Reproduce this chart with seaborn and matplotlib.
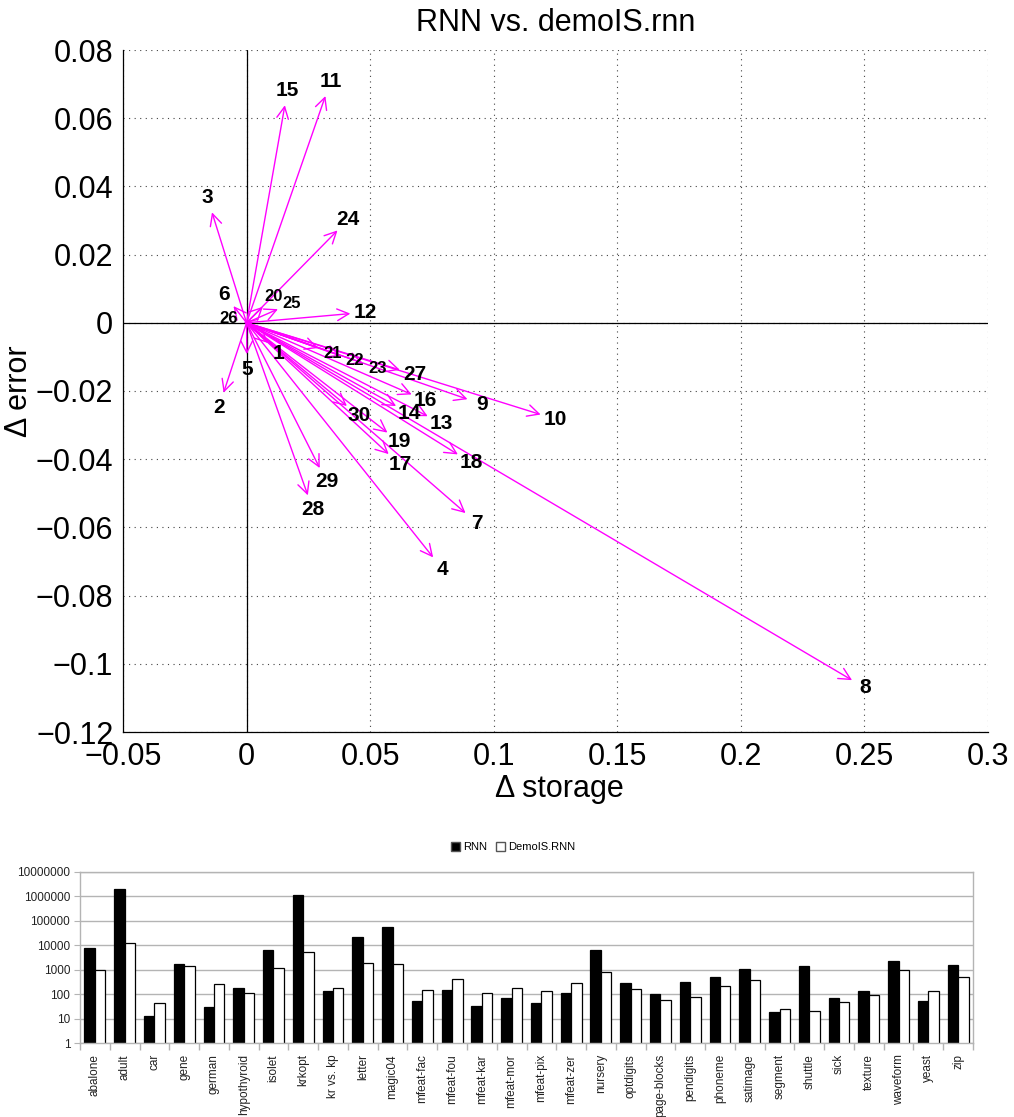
import numpy as np
import pandas as pd
import matplotlib
matplotlib.use("Agg")
import matplotlib.pyplot as plt
from matplotlib.ticker import FuncFormatter, FixedLocator, MultipleLocator
from matplotlib.patches import Patch
import seaborn as sns

# ---- arrow chart: change in storage / error per dataset (RNN -> demoIS.rnn) ----
ids = list(range(1, 31))
d_storage = [0.0086, -0.0093, -0.0140, 0.0755, 0.0001, -0.0053, 0.0886, 0.2450,
             0.0894, 0.1190, 0.0319, 0.0420, 0.0733, 0.0605, 0.0155, 0.0668,
             0.0575, 0.0855, 0.0570, 0.0066, 0.0290, 0.0380, 0.0470, 0.0368,
             0.0127, -0.0012, 0.0620, 0.0248, 0.0296, 0.0406]
d_error = [-0.0059, -0.0205, 0.0324, -0.0688, -0.0092, 0.0049, -0.0558, -0.1048,
           -0.0224, -0.0269, 0.0665, 0.0027, -0.0274, -0.0244, 0.0638, -0.0210,
           -0.0385, -0.0386, -0.0322, 0.0047, -0.0074, -0.0097, -0.0118, 0.0271,
           0.0040, 0.0002, -0.0138, -0.0506, -0.0426, -0.0244]

# ---- bar chart: storage per dataset ----
datasets = ["abalone", "adult", "car", "gene", "german", "hypothyroid", "isolet",
            "krkopt", "kr vs. kp", "letter", "magic04", "mfeat-fac", "mfeat-fou",
            "mfeat-kar", "mfeat-mor", "mfeat-pix", "mfeat-zer", "nursery",
            "optdigits", "page-blocks", "pendigits", "phoneme", "satimage",
            "segment", "shuttle", "sick", "texture", "waveform", "yeast", "zip"]
rnn_storage = [7500, 2000000, 13, 1700, 30, 178, 6200, 1140000, 138, 22500, 54000,
               51, 152, 34, 67, 42, 108, 6400, 295, 105, 303, 520, 1035, 18, 1420,
               70, 139, 2270, 52, 1500]
demois_storage = [950, 12000, 43, 1460, 260, 108, 1170, 5300, 185, 1940, 1700,
                  148, 417, 111, 172, 130, 285, 780, 167, 56, 74, 222, 380, 25, 20,
                  49, 95, 975, 130, 500]
methods = ["RNN", "DemoIS.RNN"]

sns.set_style("white")
plt.rcParams["font.family"] = ["Liberation Sans", "DejaVu Sans"]
plt.rcParams["axes.unicode_minus"] = True
plt.rcParams["text.color"] = "black"
plt.rcParams["axes.labelcolor"] = "black"
plt.rcParams["xtick.color"] = "black"
plt.rcParams["ytick.color"] = "black"

W, H = 1014, 1117
fig = plt.figure(figsize=(W / 100, H / 100), dpi=100)


def frac(l, t, r, b):
    return [l / W, 1 - b / H, (r - l) / W, (b - t) / H]


# ================= top chart =================
ax = fig.add_axes(frac(123, 50, 988, 732))
ax.set_xlim(-0.05, 0.3)
ax.set_ylim(-0.12, 0.08)
ax.xaxis.set_major_locator(MultipleLocator(0.05))
ax.yaxis.set_major_locator(MultipleLocator(0.02))
ax.xaxis.set_minor_locator(MultipleLocator(0.01))
ax.yaxis.set_minor_locator(MultipleLocator(0.004))
fmt = FuncFormatter(lambda v, p: ("%g" % round(v, 4)).replace("-", "\u2212"))
ax.xaxis.set_major_formatter(fmt)
ax.yaxis.set_major_formatter(fmt)
ax.tick_params(axis="both", which="major", labelsize=22, direction="in",
               length=5, width=0.8, pad=7, color="black", labelcolor="black")
ax.tick_params(axis="both", which="minor", direction="in", length=3, width=0.6)
ax.grid(True, which="major", color="#444444", linestyle=(0, (1, 4)), linewidth=0.8)
for s in ["top", "right"]:
    ax.spines[s].set_visible(False)
for s in ["left", "bottom"]:
    ax.spines[s].set_color("black")
    ax.spines[s].set_linewidth(0.9)
ax.axhline(0, color="black", lw=0.9, zorder=1)
ax.axvline(0, color="black", lw=0.9, zorder=1)

ax.set_title("RNN vs. demoIS.rnn", fontsize=22, y=1.028, pad=0, color="black")
ax.set_xlabel("\u0394 storage", fontsize=22, color="black")
ax.set_ylabel("\u0394 error", fontsize=22, color="black")
ax.xaxis.set_label_coords(0.505, -0.062)
ax.yaxis.set_label_coords(-0.103, 0.5)

small_ids = {20, 21, 22, 23, 25, 26}
for i, dx, dy in zip(ids, d_storage, d_error):
    ax.annotate("", xy=(dx, dy), xytext=(0, 0),
                arrowprops=dict(arrowstyle="->,head_length=0.7,head_width=0.35",
                                color="#ff00ff", lw=1.0, mutation_scale=12,
                                shrinkA=0, shrinkB=0), zorder=3)
    p0 = ax.transData.transform((0, 0))
    p1 = ax.transData.transform((dx, dy))
    v = p1 - p0
    n = np.hypot(*v)
    u = v / n if n > 0 else np.array([1.0, 0.0])
    off = 11
    ax.annotate(str(i), xy=(dx, dy), xytext=(u[0] * off, u[1] * off),
                textcoords="offset points", ha="center", va="center",
                fontsize=12 if i in small_ids else 15, fontweight="bold",
                color="black", zorder=4)

# ================= bottom chart =================
df = pd.DataFrame({
    "dataset": datasets * 2,
    "storage": rnn_storage + demois_storage,
    "method": [methods[0]] * len(datasets) + [methods[1]] * len(datasets),
})
bx = fig.add_axes(frac(80, 872, 973, 1043))
sns.barplot(data=df, x="dataset", y="storage", hue="method", hue_order=methods,
            palette={"RNN": "black", "DemoIS.RNN": "white"}, edgecolor="black",
            linewidth=0.9, width=0.7, gap=0, legend=False, ax=bx, errorbar=None)
bx.set_yscale("log", nonpositive="clip")
bx.set_ylim(1, 1e7)
bx.set_xlim(-0.5, len(datasets) - 0.5)
bx.yaxis.set_major_locator(FixedLocator([10 ** k for k in range(8)]))
bx.yaxis.set_minor_locator(FixedLocator([]))
bx.yaxis.set_major_formatter(FuncFormatter(lambda v, p: "%d" % round(v)))
bx.grid(True, axis="y", color="#b4b4b4", lw=1.0)
bx.set_axisbelow(True)
for s in bx.spines.values():
    s.set_color("#b4b4b4")
    s.set_linewidth(1.0)
bx.set_xlabel("")
bx.set_ylabel("")
bx.tick_params(axis="y", labelsize=8.5, labelcolor="#222222", length=4,
               direction="out", color="#b4b4b4", left=True, pad=3)
bx.set_xticks(range(len(datasets)))
bx.set_xticklabels(datasets, rotation=90, fontsize=8.5, color="#222222")
bx.tick_params(axis="x", which="major", length=0, pad=8)
bx.xaxis.set_minor_locator(FixedLocator(np.arange(-0.5, len(datasets), 1.0)))
bx.tick_params(axis="x", which="minor", length=5, direction="out",
               color="#b4b4b4", width=1.0, bottom=True)

handles = [Patch(facecolor="black", edgecolor="#555555", label=methods[0]),
           Patch(facecolor="white", edgecolor="#555555", label=methods[1])]
bx.legend(handles=handles, loc="lower center", bbox_to_anchor=(0.485, 1.09),
          ncol=2, frameon=False, fontsize=8, handlelength=0.8, handleheight=0.8,
          handletextpad=0.3, columnspacing=0.8, borderaxespad=0)

fig.savefig("out.png", dpi=100)
